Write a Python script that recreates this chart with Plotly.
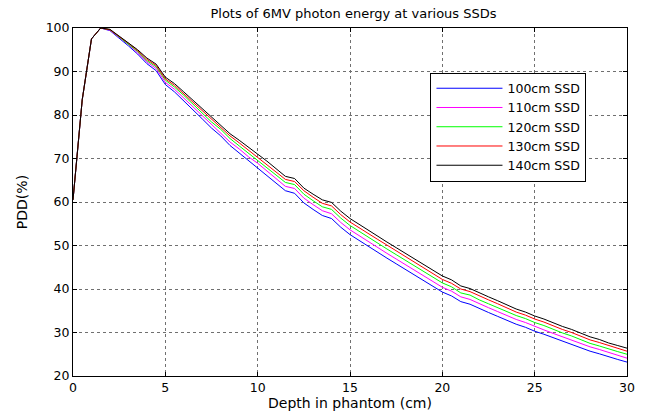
import plotly.graph_objects as go

depth = [i * 0.5 for i in range(61)]

ssd_labels = ["100cm SSD", "110cm SSD", "120cm SSD", "130cm SSD", "140cm SSD"]
line_colors = ["#0000ff", "#ff00ff", "#00ff00", "#ff0000", "#000000"]

pdd_100 = [60.5, 83.5, 97.5, 100.0, 99.4, 97.7, 95.9, 94.0, 91.8, 90.2,
           87.0, 85.3, 83.3, 81.2, 79.1, 77.0, 75.2, 73.0, 71.3, 69.5,
           67.9, 66.2, 64.4, 62.6, 62.0, 59.8, 58.3, 56.9, 56.2, 54.2,
           52.5, 51.1, 49.8, 48.4, 47.1, 45.8, 44.5, 43.1, 41.9, 40.5,
           39.3, 38.4, 37.1, 36.5, 35.5, 34.6, 33.7, 32.8, 31.9, 31.2,
           30.3, 29.6, 28.8, 28.0, 27.3, 26.5, 25.7, 25.1, 24.4, 23.8,
           23.2]
pdd_110 = [60.5, 83.5, 97.5, 100.0, 99.5, 97.9, 96.2, 94.3, 92.2, 90.7,
           87.5, 85.9, 83.9, 81.9, 79.8, 77.8, 76.0, 73.8, 72.2, 70.4,
           68.9, 67.2, 65.4, 63.6, 63.1, 60.9, 59.4, 58.0, 57.3, 55.3,
           53.6, 52.2, 50.9, 49.5, 48.2, 46.9, 45.6, 44.2, 43.0, 41.6,
           40.4, 39.5, 38.2, 37.6, 36.6, 35.7, 34.8, 33.9, 33.0, 32.3,
           31.4, 30.6, 29.8, 29.0, 28.3, 27.5, 26.7, 26.1, 25.4, 24.8,
           24.1]
pdd_120 = [60.5, 83.5, 97.5, 100.0, 99.6, 98.0, 96.4, 94.6, 92.5, 91.1,
           88.0, 86.4, 84.5, 82.5, 80.4, 78.4, 76.7, 74.6, 72.9, 71.2,
           69.7, 68.0, 66.3, 64.5, 64.0, 61.8, 60.3, 58.9, 58.3, 56.3,
           54.6, 53.2, 51.9, 50.5, 49.2, 47.9, 46.6, 45.2, 44.0, 42.6,
           41.4, 40.5, 39.1, 38.6, 37.5, 36.6, 35.7, 34.8, 33.9, 33.2,
           32.3, 31.6, 30.7, 29.9, 29.2, 28.4, 27.5, 26.9, 26.2, 25.6,
           25.0]
pdd_130 = [60.5, 83.5, 97.5, 100.0, 99.6, 98.1, 96.5, 94.8, 92.8, 91.4,
           88.3, 86.8, 84.9, 83.0, 81.0, 79.0, 77.3, 75.2, 73.6, 71.9,
           70.4, 68.7, 67.0, 65.2, 64.7, 62.6, 61.1, 59.7, 59.1, 57.1,
           55.4, 54.0, 52.8, 51.4, 50.1, 48.8, 47.5, 46.1, 44.9, 43.4,
           42.2, 41.3, 40.0, 39.4, 38.4, 37.5, 36.6, 35.6, 34.7, 34.0,
           33.1, 32.4, 31.5, 30.7, 30.0, 29.1, 28.3, 27.7, 27.0, 26.3,
           25.7]
pdd_140 = [60.5, 83.5, 97.5, 100.0, 99.7, 98.2, 96.7, 95.0, 93.1, 91.7,
           88.7, 87.2, 85.3, 83.4, 81.4, 79.5, 77.8, 75.7, 74.2, 72.5,
           71.0, 69.4, 67.6, 65.9, 65.4, 63.2, 61.8, 60.5, 59.9, 57.9,
           56.2, 54.8, 53.5, 52.1, 50.8, 49.5, 48.2, 46.8, 45.6, 44.2,
           43.0, 42.1, 40.7, 40.1, 39.1, 38.2, 37.3, 36.4, 35.4, 34.7,
           33.8, 33.1, 32.2, 31.4, 30.7, 29.8, 29.0, 28.4, 27.6, 27.0,
           26.4]

x_ticks = [0, 5, 10, 15, 20, 25, 30]
y_ticks = [20, 30, 40, 50, 60, 70, 80, 90, 100]

series = [pdd_100, pdd_110, pdd_120, pdd_130, pdd_140]

FONT = "DejaVu Sans, Arial, sans-serif"

fig = go.Figure()
for name, vals, col in zip(ssd_labels, series, line_colors):
    fig.add_trace(go.Scatter(x=depth, y=vals, mode="lines", name=name,
                             line=dict(color=col, width=1)))

axis_common = dict(
    showline=True, linecolor="black", linewidth=1, mirror="ticks",
    ticks="inside", ticklen=4, tickcolor="black", tickwidth=1,
    showgrid=True, gridcolor="#707070", gridwidth=1, griddash="dot",
    zeroline=False, tickfont=dict(family=FONT, size=12.5, color="black"),
)

fig.update_layout(
    width=647, height=420,
    margin=dict(l=73, r=13, t=28, b=41),
    paper_bgcolor="white", plot_bgcolor="white",
    font=dict(family=FONT, size=13, color="black"),
    title=dict(text="Plots of 6MV photon energy at various SSDs",
               x=(73 + 634) / 2 / 647, xanchor="center",
               y=1 - 13 / 420, yanchor="middle",
               font=dict(family=FONT, size=13, color="black")),
    xaxis=dict(range=[0, 30], tickvals=x_ticks,
               title=dict(text="Depth in phantom (cm)", standoff=3,
                          font=dict(family=FONT, size=14)),
               **axis_common),
    yaxis=dict(range=[20, 100], tickvals=y_ticks,
               title=dict(text="PDD(%)", standoff=14,
                          font=dict(family=FONT, size=14)),
               **axis_common),
    legend=dict(x=(435 - 73) / 561, y=(379 - 73) / 351,
                xanchor="left", yanchor="top",
                bgcolor="white", bordercolor="black", borderwidth=1,
                font=dict(family=FONT, size=12.5, color="black"),
                tracegroupgap=0, itemwidth=66),
    showlegend=True,
)

fig.write_html("out.html")
